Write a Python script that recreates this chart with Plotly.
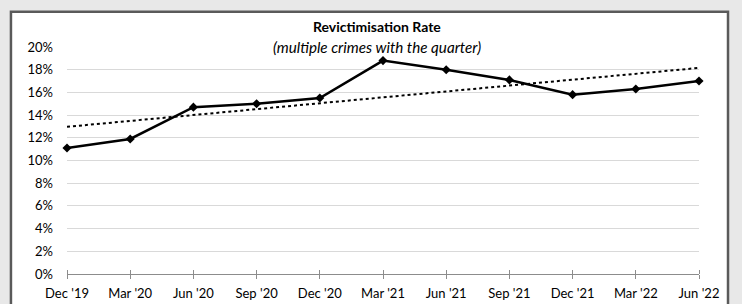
import numpy as np
import plotly.graph_objects as go

quarters = ["Dec '19", "Mar '20", "Jun '20", "Sep '20", "Dec '20", "Mar '21",
            "Jun '21", "Sep '21", "Dec '21", "Mar '22", "Jun '22"]
rate = [0.111, 0.119, 0.147, 0.150, 0.155, 0.188, 0.180, 0.171, 0.158, 0.163, 0.170]

x_idx = list(range(len(quarters)))
slope, intercept = np.polyfit(x_idx, rate, 1)
trend = [slope * i + intercept for i in x_idx]

FONT = "Lato, 'Open Sans', sans-serif"
BG = "#e8e8e8"

fig = go.Figure()
fig.add_trace(go.Scatter(
    x=x_idx, y=trend, mode="lines",
    line=dict(color="black", width=2, dash="dot"),
    hoverinfo="skip", showlegend=False, cliponaxis=False,
))
fig.add_trace(go.Scatter(
    x=x_idx, y=rate, mode="lines+markers",
    line=dict(color="black", width=2.5),
    marker=dict(symbol="diamond", size=7, color="black"),
    showlegend=False, cliponaxis=False,
))

fig.update_layout(
    width=742, height=304,
    margin=dict(l=67, r=43, t=47, b=30, autoexpand=False),
    paper_bgcolor=BG,
    plot_bgcolor="rgba(0,0,0,0)",
    font=dict(family=FONT, size=13, color="#000000"),
    shapes=[dict(
        type="rect", xref="paper", yref="paper",
        x0=-0.0887, x1=1.0459, y0=-0.3, y1=1.155,
        fillcolor="white", line=dict(color="#5a5a5a", width=2.5), layer="below",
    )],
    annotations=[
        dict(text="<b>Revictimisation Rate</b>", xref="paper", yref="paper",
             x=0.49, y=1.09, showarrow=False, xanchor="center", yanchor="middle",
             font=dict(family=FONT, size=14, color="black", weight="bold")),
        dict(text="<i>(multiple crimes with the quarter)</i>", xref="paper", yref="paper",
             x=0.49, y=1.0, showarrow=False, xanchor="center", yanchor="middle",
             font=dict(family=FONT, size=15.2, color="black", style="italic")),
    ],
)

fig.update_xaxes(
    range=[0, len(quarters) - 1],
    tickmode="array", tickvals=x_idx, ticktext=quarters,
    showgrid=False, zeroline=False,
    showline=True, linecolor="#8c8c8c", linewidth=1,
    ticks="outside", ticklen=4, tickcolor="#8c8c8c", tickwidth=1,
    minor=dict(ticks="inside", ticklen=4, tickcolor="#8c8c8c", tickwidth=1,
               tick0=0, dtick=1, showgrid=False),
    tickfont=dict(size=13, color="black"),
    ticklabelstandoff=3,
    automargin=False,
    fixedrange=True,
)
fig.update_yaxes(
    range=[0, 0.2], dtick=0.02, tick0=0, tickformat=".0%",
    showgrid=True, gridcolor="#d9d9d9", gridwidth=1,
    zeroline=False, showline=False, ticks="",
    ticklabelstandoff=13,
    tickfont=dict(size=13, color="black"),
    automargin=False,
    fixedrange=True,
)

fig.write_html(
    "out.html",
    config={"displayModeBar": False},
    post_script="document.body.style.margin='0';document.body.style.background='" + BG + "';",
)
